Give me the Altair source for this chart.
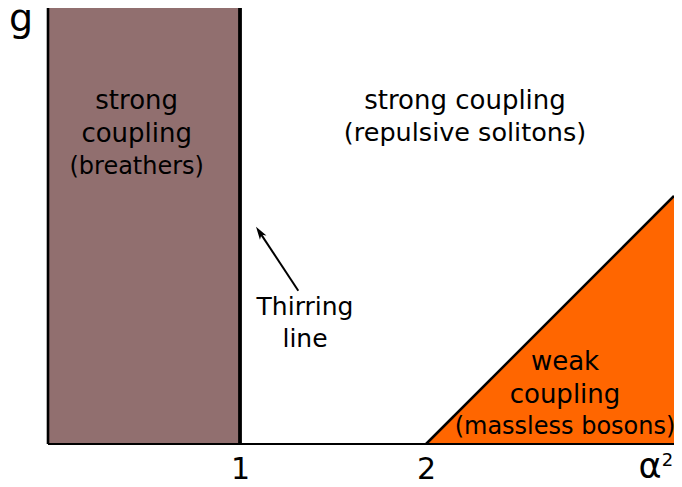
import altair as alt
import pandas as pd

# axis extents (alpha^2 on x, g on y)
XMIN, XMAX = -0.0323, 3.3333
YMAX, YTOP = 2.3441, 2.3602

BROWN = "#916f6f"
ORANGE = "#ff6600"
FONT = "DejaVu Sans"

tick_values = [1, 2]

# strong-coupling (breathers) region: 0 < alpha^2 < 1
strong_x = [XMIN, 1.0]
strong_y = [0.0, YTOP]

# weak-coupling (massless bosons) triangle
weak_x = [2.0, 3.3333]
weak_g = [0.0, 1.3333]

# straight lines: left axis, Thirring line, bottom axis, arrow shaft
line_x1 = [XMIN, 1.0, XMIN, 1.3134]
line_x2 = [XMIN, 1.0, XMAX, 1.1054]
line_y1 = [0.0, 0.0, 0.0, 0.8242]
line_y2 = [YTOP, YTOP, 0.0, 1.1392]
line_w = [2.6, 3.8, 2.0, 2.0]

# arrow head
head_x = [1.1054]
head_y = [1.1392]

# labels
label_text = ["strong", "coupling", "(breathers)",
              "strong coupling", "(repulsive solitons)",
              "Thirring", "line",
              "weak", "coupling", "(massless bosons)",
              "g", "α", "2"]
label_x = [0.4446, 0.4446, 0.4446,
           2.2097, 2.2097,
           1.3495, 1.3495,
           2.7473, 2.7473, 2.7473,
           -0.1774, 3.204, 3.2984]
label_y = [1.7984, 1.6263, 1.4543,
           1.7984, 1.6290,
           0.6935, 0.5215,
           0.3978, 0.2231, 0.0538,
           2.2204, -0.1828, -0.1183]
label_size = [26, 26, 24,
              26, 25.5,
              25, 25,
              26, 26, 24,
              38, 35, 18]

xscale = alt.Scale(domain=[XMIN, XMAX], nice=False, zero=False)
yscale = alt.Scale(domain=[0, YMAX], nice=False, zero=False)
xaxis = alt.Axis(values=tick_values, labelFontSize=30, labelFont=FONT, labelColor="black",
                 ticks=False, tickSize=0, domain=False, grid=False, labelPadding=10,
                 title=None, format="d")

def X(f):
    return alt.X(f, type="quantitative", scale=xscale, axis=xaxis, title=None)

def Y(f):
    return alt.Y(f, type="quantitative", scale=yscale, axis=None, title=None)

rect_df = pd.DataFrame({"x": [strong_x[0]], "x2": [strong_x[1]],
                        "y": [strong_y[0]], "y2": [strong_y[1]]})
rect = alt.Chart(rect_df).mark_rect(color=BROWN).encode(
    x=X("x"), x2="x2", y=Y("y"), y2="y2")

tri_df = pd.DataFrame({"x": weak_x, "y": weak_g, "y0": [0.0, 0.0]})
area = alt.Chart(tri_df).mark_area(color=ORANGE, opacity=1).encode(
    x=X("x"), y=Y("y"), y2="y0")
hyp = alt.Chart(tri_df).mark_line(color="black", strokeWidth=2.5).encode(
    x=X("x"), y=Y("y"))

line_df = pd.DataFrame({"x": line_x1, "x2": line_x2, "y": line_y1, "y2": line_y2, "w": line_w})
rules = alt.Chart(line_df).mark_rule(color="black").encode(
    x=X("x"), x2="x2", y=Y("y"), y2="y2", size=alt.Size("w:Q", scale=None, legend=None))

head_df = pd.DataFrame({"x": head_x, "y": head_y})
head = alt.Chart(head_df).mark_point(
    shape="M0,-1L0.6,1L0,0.5L-0.6,1Z", filled=True, color="black", opacity=1,
    size=169, angle=326.5, strokeWidth=0).encode(x=X("x"), y=Y("y"))

lab_df = pd.DataFrame({"x": label_x, "y": label_y, "t": label_text, "s": label_size})
labels = alt.Chart(lab_df).mark_text(font=FONT, color="black", align="center",
                                     baseline="alphabetic").encode(
    x=X("x"), y=Y("y"), text="t:N", size=alt.Size("s:Q", scale=None, legend=None))

chart = alt.layer(rect, area, hyp, rules, head, labels).properties(
    width=626, height=436,
    padding={"left": 40, "top": 0, "right": 0, "bottom": 42},
    autosize=alt.AutoSizeParams(type="none"),
    background="white",
).configure_view(stroke=None)

chart.save("out.html", embed_options={"renderer": "svg", "actions": False})
